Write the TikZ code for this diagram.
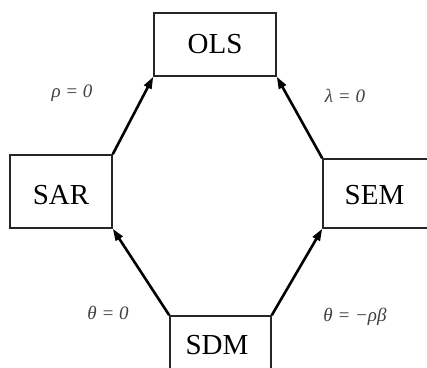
\documentclass[tikz,border=0pt]{standalone}
\usepackage{fontspec}
\setmainfont{Liberation Serif}
\usetikzlibrary{arrows.meta}
\begin{document}
\begin{tikzpicture}[x=1pt,y=1pt,
  modelbox/.style={draw=black!85, line width=1.5pt, inner sep=0pt, font=\fontsize{29}{31}\selectfont},
  boxtext/.style={font=\fontsize{29}{31}\selectfont},
  link/.style={line width=2.6pt, -{Triangle[length=12pt,width=8pt]}},
  cond/.style={text=black!75, font=\fontsize{19}{21}\selectfont\itshape}]
\useasboundingbox (0,0) rectangle (427,367);
\begin{scope}
\clip (0,0) rectangle (427,367);
\node[modelbox, minimum width=122, minimum height=63] (ols) at (215,322.5) {OLS};
\node[modelbox, minimum width=102, minimum height=73] (sar) at (61,175.5) {};
\node[boxtext] (sart) at (61,172) {SAR};
\node[modelbox, minimum width=114, minimum height=69] (sem) at (380,173.5) {};
\node[boxtext] (semt) at (374.5,172) {SEM};
\node[modelbox, minimum width=101, minimum height=66] (sdm) at (220.5,18) {};
\node[boxtext] (sdmt) at (217,22) {SDM};
\draw[link] (sar.north east) -- (ols.south west);
\draw[link] (sem.north west) -- (ols.south east);
\draw[link] (sdm.north west) -- (sar.south east);
\draw[link] (sdm.north east) -- (sem.south west);
\node[cond] (l1) at (72,274) {ρ = 0};
\node[cond] (l2) at (345,271) {λ = 0};
\node[cond] (l3) at (108,54) {θ = 0};
\node[cond] (l4) at (355,50) {θ = −ρβ};
\end{scope}
\end{tikzpicture}
\end{document}
